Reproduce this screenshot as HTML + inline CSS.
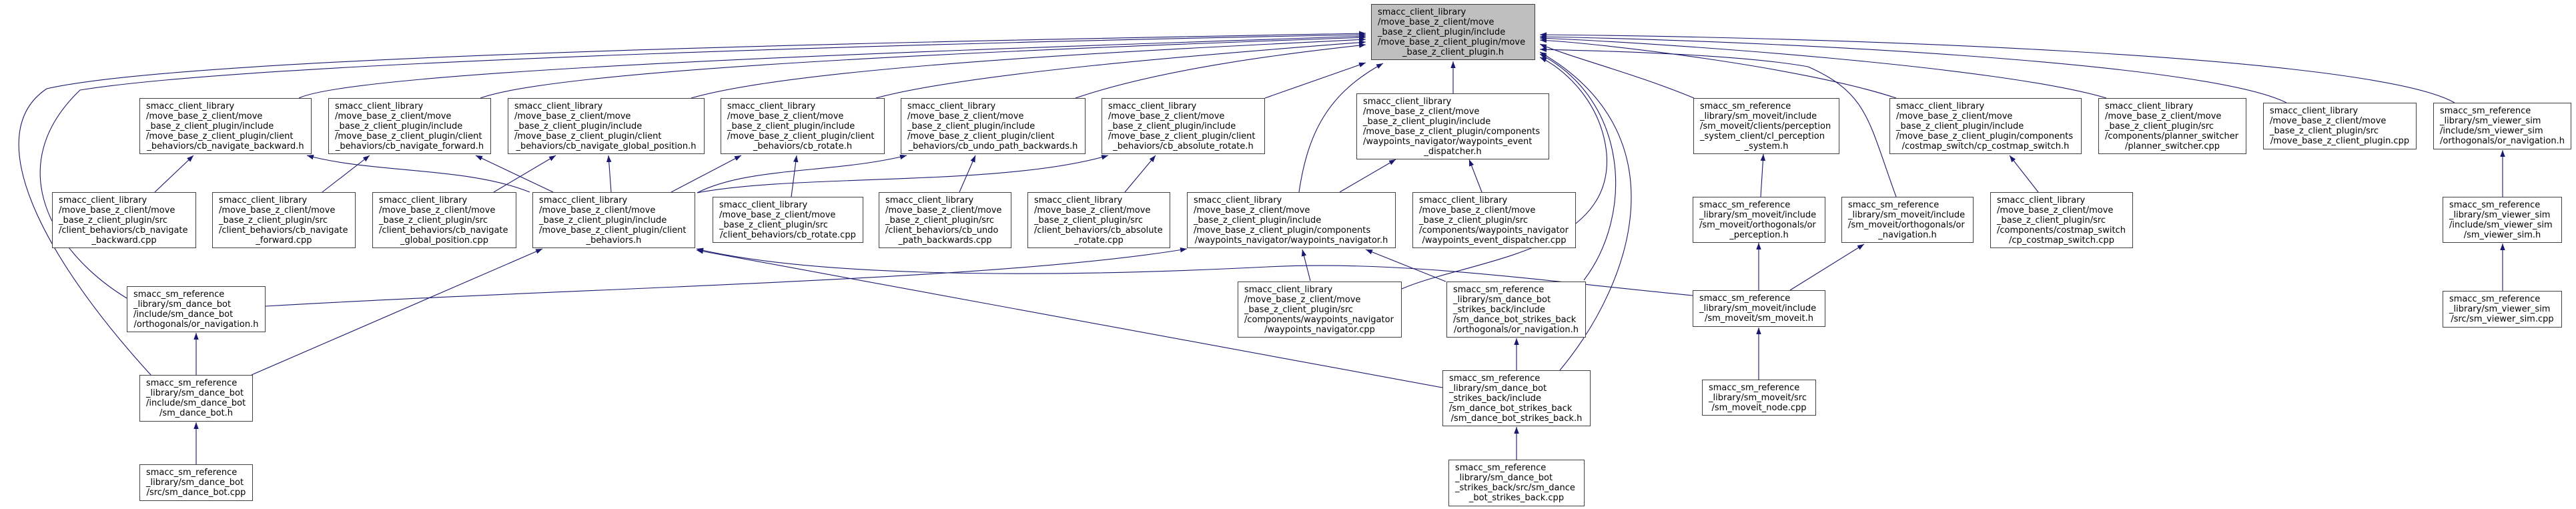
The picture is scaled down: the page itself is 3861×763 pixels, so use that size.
<!DOCTYPE html>
<html><head><meta charset="utf-8"><style>
body{margin:0;width:3861px;height:763px;background:#fff;position:relative;overflow:hidden;font-family:"DejaVu Sans","Liberation Sans",sans-serif;}
svg{position:absolute;left:0;top:0}
.n{position:absolute;box-sizing:border-box;border:1px solid #404040;background:#fff;font-size:13px;line-height:15px;color:#000;padding:0 9px;display:flex;flex-direction:column;justify-content:center;white-space:nowrap;}
.n div:last-child{text-align:center}
.g{background:#bfbfbf}
</style></head><body>
<svg width="3861" height="763" viewBox="0 0 3861 763">
<defs><marker id="a" markerUnits="userSpaceOnUse" markerWidth="11" markerHeight="8" refX="10" refY="3.75" orient="auto"><path d="M0,0 L10,3.75 L0,7.5z" fill="#191970"/></marker></defs>
<g fill="none" stroke="#191970" stroke-width="1.1" marker-end="url(#a)">
<path d="M226,562 C60,380 -30,200 70,133 C300,80 1500,60 2047,50"/>
<path d="M190,447 C80,380 0,250 120,135 C400,90 1500,62 2047,52"/>
<path d="M448,147 C550,100 1600,70 2047,54"/>
<path d="M720,147 C850,100 1600,72 2047,56"/>
<path d="M1036,147 C1200,100 1700,76 2047,59"/>
<path d="M1313,147 C1450,110 1800,82 2047,63"/>
<path d="M1612,147 C1750,100 1950,78 2047,67"/>
<path d="M1896,147 L2047,94"/>
<path d="M1947,288 C1960,200 1990,140 2073,95"/>
<path d="M2178,140 L2178,92"/>
<path d="M2101,433 C2200,390 2420,380 2408,230 C2400,150 2340,100 2308,86"/>
<path d="M2374,420 C2450,320 2440,150 2308,81"/>
<path d="M2338,555 C2450,420 2520,200 2308,78"/>
<path d="M2539,147 C2450,110 2350,85 2308,66"/>
<path d="M2842,295 C2800,180 2800,140 2710,100 C2600,80 2350,75 2308,74"/>
<path d="M2842,147 C2700,100 2400,65 2308,60"/>
<path d="M3157,147 C3000,100 2500,65 2308,57"/>
<path d="M3427,154 C3300,90 2600,60 2308,55"/>
<path d="M3679,154 C3550,80 2700,55 2308,52"/>
<path d="M232,288 L290,233"/>
<path d="M483,288 L554,233"/>
<path d="M740,288 L833,233"/>
<path d="M794,288 C700,250 560,260 460,233"/>
<path d="M829,288 L713,233"/>
<path d="M916,288 L912,233"/>
<path d="M1006,288 L1111,233"/>
<path d="M1045,289 C1120,250 1250,260 1359,233"/>
<path d="M1045,289 C1200,260 1500,280 1661,233"/>
<path d="M1186,295 L1194,233"/>
<path d="M1438,288 L1462,233"/>
<path d="M1686,288 L1732,233"/>
<path d="M377,562 L813,373"/>
<path d="M2537,443 C2300,420 2100,390 1900,400 C1500,420 1200,410 1044,373"/>
<path d="M2162,581 L1044,375"/>
<path d="M398,459 C900,430 1500,420 1779,373"/>
<path d="M1964,421 L1952,374"/>
<path d="M2167,422 L2047,374"/>
<path d="M2008,288 L2092,239"/>
<path d="M2221,288 L2202,239"/>
<path d="M2273,555 L2273,507"/>
<path d="M2273,689 L2273,640"/>
<path d="M294,562 L294,499"/>
<path d="M294,696 L294,633"/>
<path d="M2639,295 L2643,231"/>
<path d="M2636,435 L2636,364"/>
<path d="M2683,435 L2794,366"/>
<path d="M2636,569 L2636,491"/>
<path d="M3055,288 L3012,233"/>
<path d="M3751,295 L3751,225"/>
<path d="M3751,436 L3751,365"/>
</g></svg>

<div class="n g" style="left:2055px;top:6px;width:246px;height:84px"><div>smacc_client_library</div><div>/move_base_z_client/move</div><div>_base_z_client_plugin/include</div><div>/move_base_z_client_plugin/move</div><div>_base_z_client_plugin.h</div></div>

<div class="n" style="left:209px;top:147px;width:258px;height:84px"><div>smacc_client_library</div><div>/move_base_z_client/move</div><div>_base_z_client_plugin/include</div><div>/move_base_z_client_plugin/client</div><div>_behaviors/cb_navigate_backward.h</div></div>
<div class="n" style="left:492px;top:147px;width:244px;height:84px"><div>smacc_client_library</div><div>/move_base_z_client/move</div><div>_base_z_client_plugin/include</div><div>/move_base_z_client_plugin/client</div><div>_behaviors/cb_navigate_forward.h</div></div>
<div class="n" style="left:761px;top:147px;width:295px;height:84px"><div>smacc_client_library</div><div>/move_base_z_client/move</div><div>_base_z_client_plugin/include</div><div>/move_base_z_client_plugin/client</div><div>_behaviors/cb_navigate_global_position.h</div></div>
<div class="n" style="left:1080px;top:147px;width:246px;height:84px"><div>smacc_client_library</div><div>/move_base_z_client/move</div><div>_base_z_client_plugin/include</div><div>/move_base_z_client_plugin/client</div><div>_behaviors/cb_rotate.h</div></div>
<div class="n" style="left:1350px;top:147px;width:277px;height:84px"><div>smacc_client_library</div><div>/move_base_z_client/move</div><div>_base_z_client_plugin/include</div><div>/move_base_z_client_plugin/client</div><div>_behaviors/cb_undo_path_backwards.h</div></div>
<div class="n" style="left:1651px;top:147px;width:245px;height:84px"><div>smacc_client_library</div><div>/move_base_z_client/move</div><div>_base_z_client_plugin/include</div><div>/move_base_z_client_plugin/client</div><div>_behaviors/cb_absolute_rotate.h</div></div>
<div class="n" style="left:2033px;top:140px;width:289px;height:99px"><div>smacc_client_library</div><div>/move_base_z_client/move</div><div>_base_z_client_plugin/include</div><div>/move_base_z_client_plugin/components</div><div>/waypoints_navigator/waypoints_event</div><div>_dispatcher.h</div></div>
<div class="n" style="left:2538px;top:147px;width:219px;height:84px"><div>smacc_sm_reference</div><div>_library/sm_moveit/include</div><div>/sm_moveit/clients/perception</div><div>_system_client/cl_perception</div><div>_system.h</div></div>
<div class="n" style="left:2832px;top:147px;width:288px;height:84px"><div>smacc_client_library</div><div>/move_base_z_client/move</div><div>_base_z_client_plugin/include</div><div>/move_base_z_client_plugin/components</div><div>/costmap_switch/cp_costmap_switch.h</div></div>
<div class="n" style="left:3145px;top:147px;width:222px;height:84px"><div>smacc_client_library</div><div>/move_base_z_client/move</div><div>_base_z_client_plugin/src</div><div>/components/planner_switcher</div><div>/planner_switcher.cpp</div></div>
<div class="n" style="left:3392px;top:154px;width:230px;height:70px"><div>smacc_client_library</div><div>/move_base_z_client/move</div><div>_base_z_client_plugin/src</div><div>/move_base_z_client_plugin.cpp</div></div>
<div class="n" style="left:3647px;top:154px;width:207px;height:70px"><div>smacc_sm_reference</div><div>_library/sm_viewer_sim</div><div>/include/sm_viewer_sim</div><div>/orthogonals/or_navigation.h</div></div>

<div class="n" style="left:78px;top:288px;width:216px;height:84px"><div>smacc_client_library</div><div>/move_base_z_client/move</div><div>_base_z_client_plugin/src</div><div>/client_behaviors/cb_navigate</div><div>_backward.cpp</div></div>
<div class="n" style="left:318px;top:288px;width:215px;height:84px"><div>smacc_client_library</div><div>/move_base_z_client/move</div><div>_base_z_client_plugin/src</div><div>/client_behaviors/cb_navigate</div><div>_forward.cpp</div></div>
<div class="n" style="left:558px;top:288px;width:216px;height:84px"><div>smacc_client_library</div><div>/move_base_z_client/move</div><div>_base_z_client_plugin/src</div><div>/client_behaviors/cb_navigate</div><div>_global_position.cpp</div></div>
<div class="n" style="left:798px;top:288px;width:244px;height:84px"><div>smacc_client_library</div><div>/move_base_z_client/move</div><div>_base_z_client_plugin/include</div><div>/move_base_z_client_plugin/client</div><div>_behaviors.h</div></div>
<div class="n" style="left:1068px;top:295px;width:226px;height:69px"><div>smacc_client_library</div><div>/move_base_z_client/move</div><div>_base_z_client_plugin/src</div><div>/client_behaviors/cb_rotate.cpp</div></div>
<div class="n" style="left:1317px;top:288px;width:199px;height:84px"><div>smacc_client_library</div><div>/move_base_z_client/move</div><div>_base_z_client_plugin/src</div><div>/client_behaviors/cb_undo</div><div>_path_backwards.cpp</div></div>
<div class="n" style="left:1540px;top:288px;width:214px;height:84px"><div>smacc_client_library</div><div>/move_base_z_client/move</div><div>_base_z_client_plugin/src</div><div>/client_behaviors/cb_absolute</div><div>_rotate.cpp</div></div>
<div class="n" style="left:1779px;top:288px;width:313px;height:84px"><div>smacc_client_library</div><div>/move_base_z_client/move</div><div>_base_z_client_plugin/include</div><div>/move_base_z_client_plugin/components</div><div>/waypoints_navigator/waypoints_navigator.h</div></div>
<div class="n" style="left:2117px;top:288px;width:245px;height:84px"><div>smacc_client_library</div><div>/move_base_z_client/move</div><div>_base_z_client_plugin/src</div><div>/components/waypoints_navigator</div><div>/waypoints_event_dispatcher.cpp</div></div>
<div class="n" style="left:2537px;top:295px;width:199px;height:69px"><div>smacc_sm_reference</div><div>_library/sm_moveit/include</div><div>/sm_moveit/orthogonals/or</div><div>_perception.h</div></div>
<div class="n" style="left:2760px;top:295px;width:198px;height:69px"><div>smacc_sm_reference</div><div>_library/sm_moveit/include</div><div>/sm_moveit/orthogonals/or</div><div>_navigation.h</div></div>
<div class="n" style="left:2983px;top:288px;width:214px;height:84px"><div>smacc_client_library</div><div>/move_base_z_client/move</div><div>_base_z_client_plugin/src</div><div>/components/costmap_switch</div><div>/cp_costmap_switch.cpp</div></div>
<div class="n" style="left:3661px;top:295px;width:179px;height:69px"><div>smacc_sm_reference</div><div>_library/sm_viewer_sim</div><div>/include/sm_viewer_sim</div><div>/sm_viewer_sim.h</div></div>

<div class="n" style="left:190px;top:429px;width:208px;height:69px"><div>smacc_sm_reference</div><div>_library/sm_dance_bot</div><div>/include/sm_dance_bot</div><div>/orthogonals/or_navigation.h</div></div>
<div class="n" style="left:1855px;top:422px;width:246px;height:84px"><div>smacc_client_library</div><div>/move_base_z_client/move</div><div>_base_z_client_plugin/src</div><div>/components/waypoints_navigator</div><div>/waypoints_navigator.cpp</div></div>
<div class="n" style="left:2168px;top:422px;width:209px;height:84px"><div>smacc_sm_reference</div><div>_library/sm_dance_bot</div><div>_strikes_back/include</div><div>/sm_dance_bot_strikes_back</div><div>/orthogonals/or_navigation.h</div></div>
<div class="n" style="left:2537px;top:435px;width:199px;height:55px"><div>smacc_sm_reference</div><div>_library/sm_moveit/include</div><div>/sm_moveit/sm_moveit.h</div></div>
<div class="n" style="left:3661px;top:436px;width:179px;height:55px"><div>smacc_sm_reference</div><div>_library/sm_viewer_sim</div><div>/src/sm_viewer_sim.cpp</div></div>

<div class="n" style="left:209px;top:562px;width:170px;height:70px"><div>smacc_sm_reference</div><div>_library/sm_dance_bot</div><div>/include/sm_dance_bot</div><div>/sm_dance_bot.h</div></div>
<div class="n" style="left:2162px;top:555px;width:222px;height:84px"><div>smacc_sm_reference</div><div>_library/sm_dance_bot</div><div>_strikes_back/include</div><div>/sm_dance_bot_strikes_back</div><div>/sm_dance_bot_strikes_back.h</div></div>
<div class="n" style="left:2551px;top:569px;width:171px;height:54px"><div>smacc_sm_reference</div><div>_library/sm_moveit/src</div><div>/sm_moveit_node.cpp</div></div>

<div class="n" style="left:209px;top:696px;width:170px;height:55px"><div>smacc_sm_reference</div><div>_library/sm_dance_bot</div><div>/src/sm_dance_bot.cpp</div></div>
<div class="n" style="left:2171px;top:689px;width:204px;height:70px"><div>smacc_sm_reference</div><div>_library/sm_dance_bot</div><div>_strikes_back/src/sm_dance</div><div>_bot_strikes_back.cpp</div></div>
</body></html>
